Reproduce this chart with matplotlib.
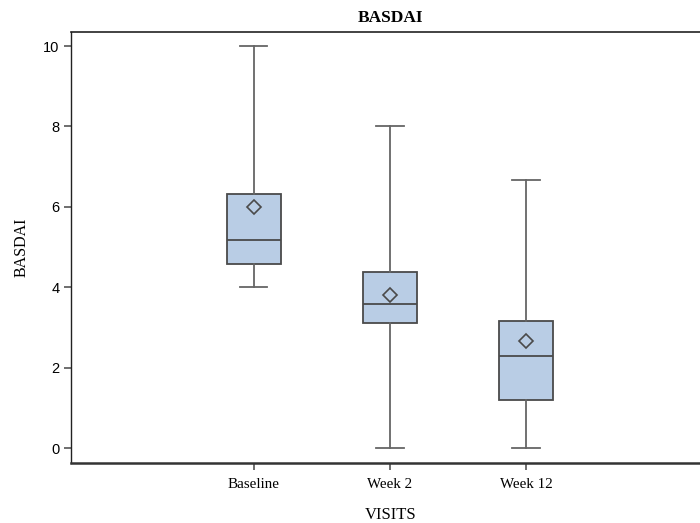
import matplotlib.pyplot as plt

# box plot summary values
visits = ["Baseline", "Week 2", "Week 12"]
whislo = [4.0, 0.0, 0.0]
q1 = [4.58, 3.11, 1.19]
med = [5.18, 3.58, 2.29]
q3 = [6.33, 4.38, 3.17]
whishi = [10.0, 8.0, 6.68]
mean = [6.0, 3.8, 2.66]

y_ticks = [0, 2, 4, 6, 8, 10]

plt.rcParams['font.family'] = ['Liberation Serif', 'DejaVu Serif']

fig = plt.figure(figsize=(7, 5.23), dpi=100)
ax = fig.add_axes([0.102, 0.1147, 0.912, 0.8241])

stats = []
for i, name in enumerate(visits):
    stats.append({
        "label": name, "whislo": whislo[i], "q1": q1[i], "med": med[i],
        "q3": q3[i], "whishi": whishi[i], "mean": mean[i], "fliers": [],
    })

edge = "#4a4a4a"
ax.bxp(
    stats, positions=[1, 2, 3], widths=0.4, patch_artist=True,
    showmeans=True, showfliers=False,
    boxprops=dict(facecolor="#b9cde5", edgecolor=edge, linewidth=1.3),
    medianprops=dict(color=edge, linewidth=1.3),
    whiskerprops=dict(color="#666666", linewidth=1.3),
    capprops=dict(color="#666666", linewidth=1.3),
    meanprops=dict(marker="D", markerfacecolor="none", markeredgecolor=edge,
                   markersize=7, markeredgewidth=1.2),
)

ax.set_xlim(-0.34, 4.35)
ax.set_ylim(-0.37, 10.35)
ax.set_yticks(y_ticks)
ax.set_yticklabels([str(t) for t in y_ticks], family=['Liberation Sans'], fontsize=10.5)
ax.set_xticks([1, 2, 3])
ax.set_xticklabels(visits, fontsize=10.8)

ax.tick_params(axis="both", direction="out", length=5, width=1.2, color="#555555")
ax.tick_params(axis="x", pad=5.5)
ax.tick_params(axis="y", pad=3.5)
ax.spines["left"].set_color("#222222")
ax.spines["left"].set_linewidth(1.0)
ax.spines["top"].set_color("#222222")
ax.spines["top"].set_linewidth(1.2)
ax.spines["bottom"].set_color("#333333")
ax.spines["bottom"].set_linewidth(1.8)
ax.spines["right"].set_visible(False)

ax.set_title("BASDAI", fontsize=12.5, fontweight="bold", pad=7)
ax.set_ylabel("BASDAI", fontsize=11.5, labelpad=10)
ax.set_xlabel("VISITS", fontsize=12, labelpad=12)

fig.savefig("out.png", dpi=100)
